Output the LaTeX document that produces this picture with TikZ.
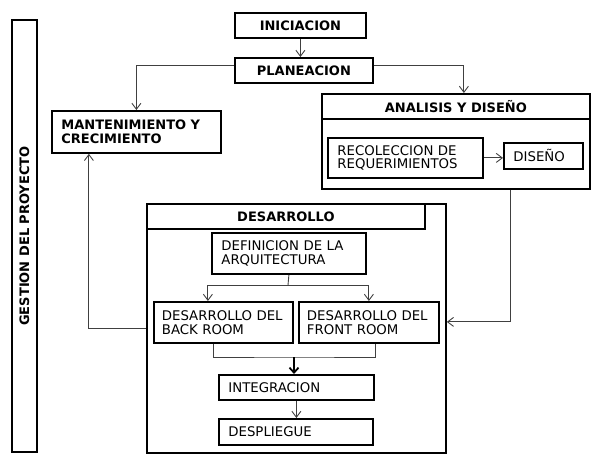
\documentclass[tikz,border=0pt]{standalone}
\usepackage{fontspec}
\setmainfont{DejaVu Sans}
\usetikzlibrary{positioning, arrows.meta}

\begin{document}
\begin{tikzpicture}[
		x=1pt, y=-1pt,
		box/.style={draw, line width=1.8pt, rectangle, anchor=north west, inner xsep=9.5pt, inner ysep=0pt, font=\fontsize{13.3}{13.8}\selectfont},
		tbox/.style={box, align=center, font=\bfseries\fontsize{13}{13.5}\selectfont},
		lbox/.style={box, align=left},
		link/.style={draw=black!75, line width=0.9pt, -{Straight Barb[length=6pt, width=9pt]}},
		plain/.style={draw=black!75, line width=0.9pt},
		merge/.style={draw=black, line width=1.8pt, -{Straight Barb[length=5pt, width=9pt]}},
	]
	\useasboundingbox (0,0) rectangle (596,454);

	\node[tbox, minimum width=432pt, minimum height=25pt, rotate=90, anchor=center] (ges) at (24.5,236) {GESTION DEL PROYECTO};

	\node[tbox, minimum width=131pt, minimum height=25pt] (ini) at (234,12) {INICIACION};
	\node[tbox, minimum width=138pt, minimum height=25pt] (pla) at (234,57) {PLANEACION};
	\node[lbox, font=\bfseries\fontsize{13}{13.5}\selectfont, text width=150pt, minimum height=42pt] (man) at (51,110) {MANTENIMIENTO Y\\CRECIMIENTO};

	% analisis y diseno
	\node[box, minimum width=268pt, minimum height=70pt] (anab) at (321,118) {};
	\node[tbox, minimum width=268pt, minimum height=25pt] (anah) at (321,93) {ANALISIS Y DISEÑO};
	\node[lbox, text width=136pt, minimum height=40pt] (rec) at (327,137) {RECOLECCION DE\\REQUERIMIENTOS};
	\node[lbox, text width=60pt, minimum height=26pt] (dis) at (503,142) {DISEÑO};

	% desarrollo
	\node[box, minimum width=299pt, minimum height=249pt] (desb) at (146,203) {};
	\node[tbox, minimum width=278pt, minimum height=25pt] (desh) at (146,203) {DESARROLLO};
	\node[lbox, text width=135pt, minimum height=41pt] (def) at (211,232) {DEFINICION DE LA\\ARQUITECTURA};
	\node[lbox, inner xsep=8pt, text width=123pt, minimum height=41pt] (bak) at (153,301) {DESARROLLO DEL\\BACK ROOM};
	\node[lbox, inner xsep=8pt, text width=124pt, minimum height=41pt] (fro) at (298,301) {DESARROLLO DEL\\FRONT ROOM};
	\node[lbox, text width=136pt, minimum height=25pt] (int) at (218,374) {INTEGRACION};
	\node[lbox, text width=135pt, minimum height=26pt] (dep) at (218,418) {DESPLIEGUE};

	\coordinate (split) at (288,285);
	\coordinate (join) at (294,357);

	\foreach \i/\j in {ini/pla, int/dep}
		\draw[link] (\i.south) -- (\i.south |- \j.north);
	\draw[link] (rec.east) -- (rec.east -| dis.west);

	\draw[link] ([yshift=5pt]pla.west) -| (man.north);
	\draw[link] ([yshift=5pt]pla.east) -| ([xshift=8pt]anah.north);
	\draw[link] ([xshift=55pt]anab.south) |- ([yshift=6.5pt]desb.east);
	\draw[link] (desb.west) -| ([xshift=-47.5pt]man.south);

	\draw[plain] (def.south) -- (split);
	\draw[link] (split) -| ([xshift=-15.5pt]bak.north);
	\draw[link] (split) -| (fro.north);

	\draw[plain] ([xshift=-10pt]bak.south) |- (join) -| ([xshift=7pt]fro.south);
	\draw[merge] (join) -- (join |- int.north);
\end{tikzpicture}
\end{document}
